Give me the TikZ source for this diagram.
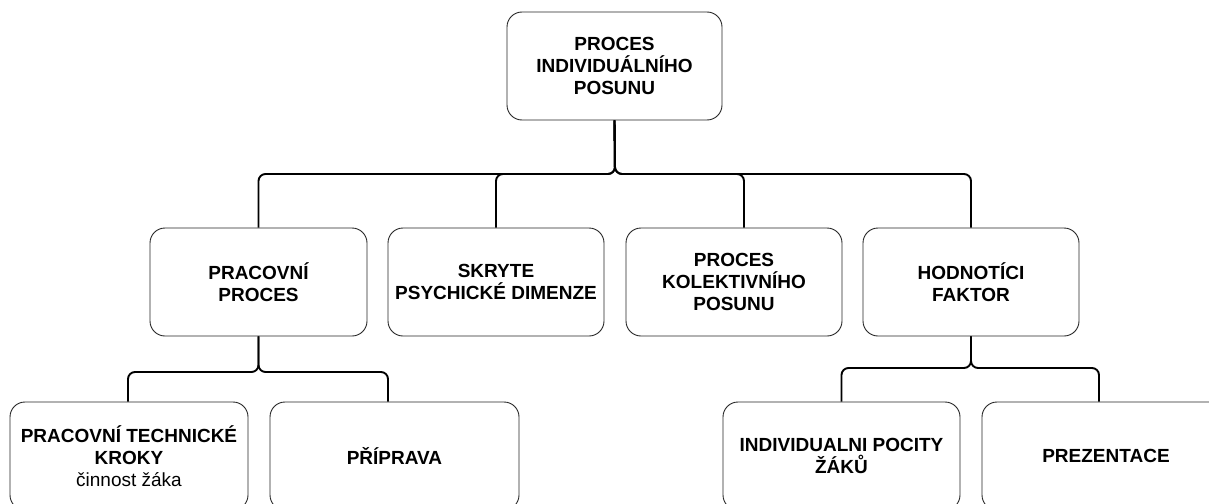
\documentclass[tikz,border=0pt]{standalone}
\usepackage{fontspec}
\setmainfont{Liberation Sans}
\begin{document}
\begin{tikzpicture}[x=1pt,y=-1pt,
  box/.style={draw=black!85,line width=0.9pt,rounded corners=15pt,minimum height=108pt,
    align=center,font=\fontsize{19}{22}\selectfont\bfseries,inner sep=0pt},
  conn/.style={draw=black,line width=1.9pt,rounded corners=7pt}]
\useasboundingbox (0,0) rectangle (1209,503);
\clip (0,0) rectangle (1209,503);
\node[box,minimum width=215pt] (top) at (614.5,66) {PROCES\\INDIVIDUÁLNÍHO\\POSUNU};
\node[box,minimum width=217pt] (b1) at (258.5,282) {PRACOVNÍ\\PROCES};
\node[box,minimum width=216pt] (b2) at (496,282) {SKRYTE\\PSYCHICKÉ DIMENZE};
\node[box,minimum width=216pt] (b3) at (734,282) {PROCES\\KOLEKTIVNÍHO\\POSUNU};
\node[box,minimum width=216pt] (b4) at (971,282) {HODNOTÍCI\\FAKTOR};
\node[box,minimum width=238pt] (c1) at (129,456) {PRACOVNÍ TECHNICKÉ\\KROKY\\{\mdseries činnost žáka}};
\node[box,minimum width=249pt] (c2) at (394.5,456) {PŘÍPRAVA};
\node[box,minimum width=237pt] (c3) at (841.5,456) {INDIVIDUALNI POCITY\\ŽÁKŮ};
\node[box,minimum width=248pt] (c4) at (1106,456) {PREZENTACE};
\coordinate (j1) at (615,174);
\coordinate (j2) at (258.5,372);
\coordinate (j3) at (971,368);
\draw[conn] (b1.north) |- (j1) -- (top.south);
\draw[conn] (b2.north) |- (j1) -- (top.south);
\draw[conn] ([xshift=10pt]b3.north) |- (j1) -- (top.south);
\draw[conn] (b4.north) |- (j1) -- (top.south);
\draw[conn] ([xshift=-1pt]c1.north) |- (j2) -- (b1.south);
\draw[conn] ([xshift=-6.5pt]c2.north) |- (j2) -- (b1.south);
\draw[conn] (c3.north) |- (j3) -- (b4.south);
\draw[conn] ([xshift=-7pt]c4.north) |- (j3) -- (b4.south);
\end{tikzpicture}
\end{document}
